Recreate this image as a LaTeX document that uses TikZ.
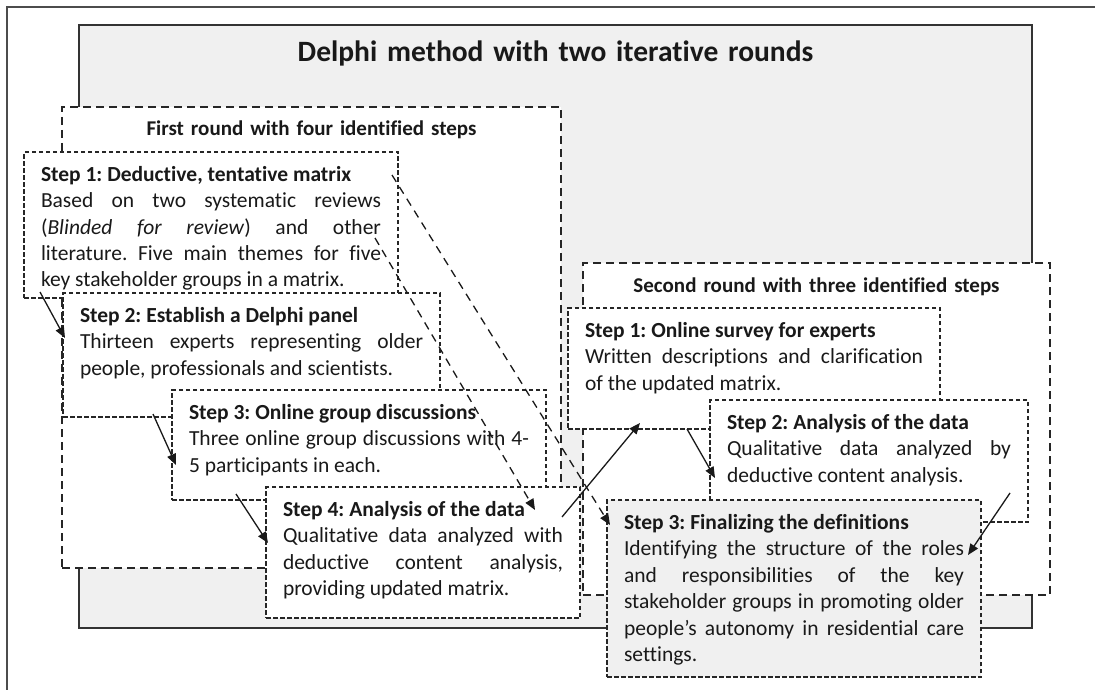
\documentclass[tikz,border=0pt]{standalone}
\usepackage{fontspec}
\setmainfont{Carlito}[Ligatures=NoCommon]
\usetikzlibrary{arrows.meta}
\frenchspacing

\begin{document}
\begin{tikzpicture}[
  x=1pt, y=-1pt,
  >={Triangle[length=11pt,width=9pt]},
  every node/.style={font=\fontsize{21.5}{26.5}\selectfont, text=black!90,
                     inner ysep=0pt, outer sep=0pt, anchor=north west},
  greybox/.style={draw=black!80, line width=1.4pt, fill=gray!12, inner xsep=0pt,
                  align=center, text width=#1},
  roundbox/.style={draw=black!85, line width=1.4pt, dash pattern=on 8pt off 5pt, fill=white,
                   inner xsep=10pt, align=center, text width=#1, text height=29pt,
                   font=\fontsize{21}{26.5}\selectfont\bfseries},
  stepbox/.style={draw=black!85, line width=1.5pt, dash pattern=on 4.5pt off 2.5pt, fill=white,
                  inner xsep=17pt, align=justify, text width=#1, text height=29pt},
  link/.style={->, line width=1.3pt, draw=black!90},
  dashlink/.style={link, dash pattern=on 8pt off 6pt}
]
  \useasboundingbox (0,0) rectangle (1095,690);
  \draw[draw=black!70, line width=1.5pt] (7,690) -- (7,7) -- (1095,7);

  \node[greybox=953pt, text height=37pt, text depth=566pt,
        font=\fontsize{29.5}{34}\selectfont\bfseries] (delphi) at (79,25)
    {Delphi method with two iterative rounds};

  % first round
  \node[roundbox=479pt, text depth=432pt] (round1) at (62,107) {First round with four identified steps};
  \node[stepbox=340pt, text depth=117pt] (tentative) at (24,152)
    {\textbf{Step 1: Deductive, tentative matrix}\\
     Based on two systematic reviews\linebreak (\textit{Blinded for review}) and other\linebreak
     literature. Five main themes for five\linebreak key stakeholder groups in a matrix.};
  \node[stepbox=343pt, text depth=95pt] (panel) at (63,293)
    {\textbf{Step 2: Establish a Delphi panel}\\
     Thirteen experts representing older\linebreak people, professionals and scientists.};
  \node[stepbox=340pt, text depth=81pt] (discuss) at (172,390)
    {\textbf{Step 3: Online group discussions}\\
     Three online group discussions with 4-\linebreak 5 participants in each.};
  \node[stepbox=280pt, text depth=102pt] (analysis1) at (266,487)
    {\textbf{Step 4: Analysis of the data}\\
     Qualitative data analyzed with\linebreak deductive content analysis,\linebreak
     providing updated matrix.};

  % second round
  \node[roundbox=447pt, text depth=303pt] (round2) at (583,263) {Second round with three identified steps};
  \node[stepbox=338pt, text depth=92pt] (survey) at (568,308)
    {\textbf{Step 1: Online survey for experts}\\
     Written descriptions and clarification\linebreak of the updated matrix.};
  \node[stepbox=284pt, text depth=93pt] (analysis2) at (710,400)
    {\textbf{Step 2: Analysis of the data}\\
     Qualitative data analyzed by\linebreak deductive content analysis.};
  \node[stepbox=340pt, text depth=148pt, fill=gray!12] (finalize) at (607,500)
    {\textbf{Step 3: Finalizing the definitions}\\
     Identifying the structure of the roles\linebreak and responsibilities of the key\linebreak
     stakeholder groups in promoting older\linebreak people’s autonomy in residential care\linebreak
     settings.};

  \draw[link] ([shift={(16,-6)}]tentative.south west) -- ([shift={(2,45)}]panel.north west);
  \draw[link] ([shift={(90,-3)}]panel.south west) -- ([shift={(4,75)}]discuss.north west);
  \draw[link] ([shift={(64,-6)}]discuss.south west) -- ([shift={(2,56)}]analysis1.north west);
  \draw[link] ([shift={(-18,30)}]analysis1.north east) -- ([shift={(72,-6)}]survey.south west);
  \draw[link] ([shift={(119,0)}]survey.south west) -- ([shift={(5,78)}]analysis2.north west);
  \draw[link] ([shift={(-18,-29)}]analysis2.south east) -- ([shift={(-13,55)}]finalize.north east);
  \draw[dashlink] ([shift={(-6,23)}]tentative.north east) -- ([shift={(3,25)}]finalize.north west);
  \draw[dashlink] ([shift={(-23,86)}]tentative.north east) -- ([shift={(269,23)}]analysis1.north west);
\end{tikzpicture}
\end{document}
